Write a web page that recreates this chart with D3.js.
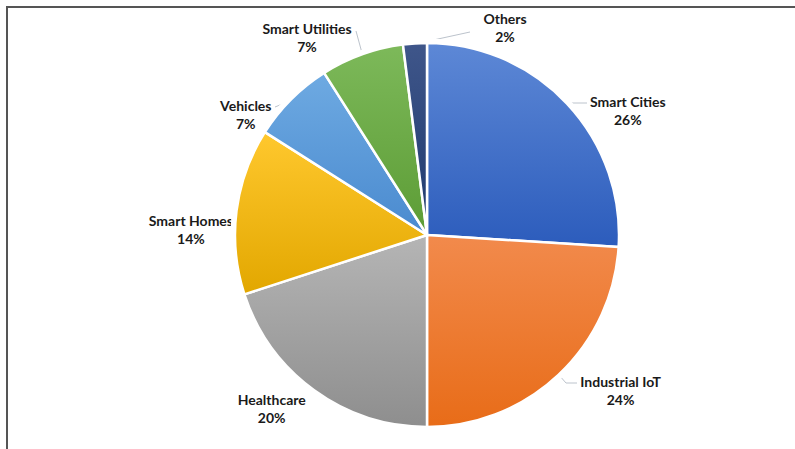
<!DOCTYPE html>
<html>
<head>
<meta charset="utf-8">
<script src="https://cdn.jsdelivr.net/npm/d3@7"></script>
<style>
  html, body { margin: 0; padding: 0; background: #fff; }
  svg { display: block; }
  .lbl { font-family: Lato, "Open Sans", sans-serif; font-weight: bold; font-size: 14px; fill: #1a1a1a; }
</style>
</head>
<body>
<svg id="chart" width="795" height="449"></svg>
<script>
// segment shares (%)
var categories = ['Smart Cities', 'Industrial IoT', 'Healthcare', 'Smart Homes', 'Vehicles', 'Smart Utilities', 'Others'];
var shares = [26, 24, 20, 14, 7, 7, 2];
var colorsLight = ['#5d88d6', '#f28a4c', '#b5b5b5', '#ffc82e', '#6eaae2', '#7db95a', '#3f568a'];
var colorsDark = ['#2c5cbc', '#e86c18', '#8e8e8e', '#e2a700', '#4a8acf', '#5c9c35', '#1f3a6e'];

var width = 795,
    height = 449;
var cx = 427,
    cy = 235,
    radius = 192;

var svg = d3.select('#chart');

// frame (only top and left edges are visible in the picture)
svg.append('line').attr('x1', 6).attr('y1', 7).attr('x2', width).attr('y2', 7)
    .attr('stroke', '#555').attr('stroke-width', 2);
svg.append('line').attr('x1', 7).attr('y1', 6).attr('x2', 7).attr('y2', height)
    .attr('stroke', '#555').attr('stroke-width', 2);

var defs = svg.append('defs');
categories.forEach(function (c, i) {
    var g = defs.append('linearGradient')
        .attr('id', 'grad' + i)
        .attr('x1', 0).attr('y1', 0).attr('x2', 0).attr('y2', 1);
    g.append('stop').attr('offset', '0%').attr('stop-color', colorsLight[i]);
    g.append('stop').attr('offset', '100%').attr('stop-color', colorsDark[i]);
});

var pie = d3.pie().sort(null).value(function (d) { return d; });
var arcs = pie(shares);
var arc = d3.arc().innerRadius(0).outerRadius(radius);

var g = svg.append('g').attr('transform', 'translate(' + cx + ',' + cy + ')');

// label layout: where each text block sits relative to the pie center, and its anchor
var labelAt = [
    { x: 163, y: -128, anchor: 'start', leader: [[0, 0], [-17, 0]] },
    { x: 153, y: 152, anchor: 'start', leader: [[0, 0], [-11, 0], [-18, -8]] },
    { x: -121, y: 170, anchor: 'end', leader: null },
    { x: -194, y: -9, anchor: 'end', leader: null },
    { x: -155, y: -124, anchor: 'end', leader: [[0, 0], [20, -8]] },
    { x: -120, y: -201, anchor: 'middle', leader: [[-71, -204], [-65, -182]] },
    { x: 78, y: -211, anchor: 'middle', leader: [[43, -203], [-12, -191]] }
];

var labels = g.append('g');
arcs.forEach(function (a, i) {
    var L = labelAt[i];
    var t = labels.append('text').attr('class', 'lbl')
        .attr('text-anchor', 'middle')
        .attr('x', L.x).attr('y', L.y);
    t.append('tspan').attr('x', L.x).attr('dy', 0).text(categories[i]);
    t.append('tspan').attr('x', L.x).attr('dy', 18).text(shares[i] + '%');
    // shift so the block's start/end edge lands on x
    var bb = t.node().getBBox();
    var shift = L.anchor === 'start' ? bb.width / 2 : (L.anchor === 'end' ? -bb.width / 2 : 0);
    t.selectAll('tspan').attr('x', L.x + shift);
    if (L.leader) {
        var pts;
        if (L.anchor === 'start') {
            pts = L.leader.map(function (p) { return [L.x - 3 + p[0], L.y - 4 + p[1]]; });
        } else if (L.anchor === 'end') {
            pts = L.leader.map(function (p) { return [L.x + 3 + p[0], L.y - 4 + p[1]]; });
        } else {
            pts = L.leader;
        }
        labels.append('path')
            .attr('d', d3.line()(pts))
            .attr('fill', 'none')
            .attr('stroke', '#bcc3cc')
            .attr('stroke-width', 1);
    }
});

// white halo around the pie (hides the tail of labels that run into it)
g.append('circle').attr('r', radius + 2)
    .attr('fill', 'none').attr('stroke', '#fff').attr('stroke-width', 5);

g.selectAll('path.slice')
    .data(arcs)
    .enter().append('path')
    .attr('class', 'slice')
    .attr('d', arc)
    .attr('fill', function (d, i) { return 'url(#grad' + i + ')'; })
    .attr('stroke', '#fff')
    .attr('stroke-width', 2.5)
    .attr('stroke-linejoin', 'round');
</script>
</body>
</html>
